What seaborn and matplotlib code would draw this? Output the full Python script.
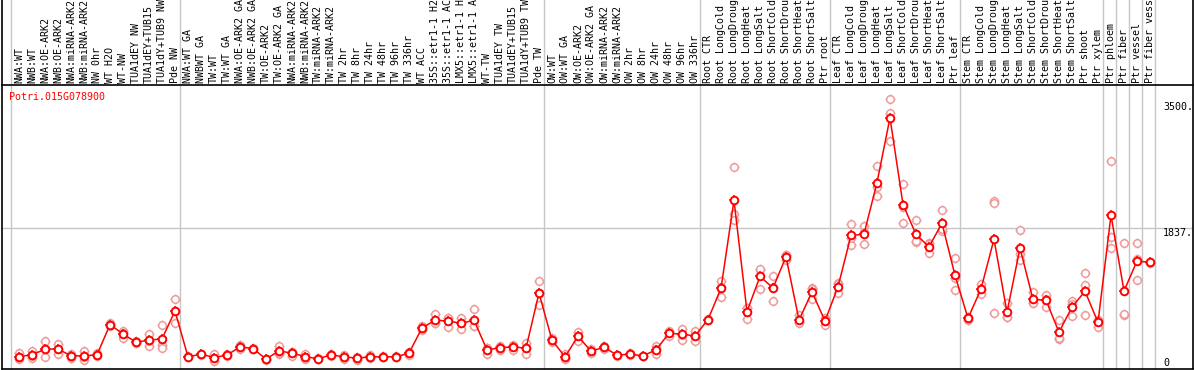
import matplotlib
matplotlib.use("Agg")
import matplotlib.pyplot as plt
import matplotlib.transforms as mtransforms
import numpy as np
import pandas as pd
import seaborn as sns

# ---- data ----
gene = "Potri.015G078900"

samples = [
    # NW block
    "NWA:WT", "NWB:WT", "NWA:OE-ARK2", "NWB:OE-ARK2", "NWA:miRNA-ARK2",
    "NWB:miRNA-ARK2", "NW 0hr", "WT H2O", "WT-NW", "TUA1dEY NW",
    "TUA1dEY+TUB15", "TUA1dY+TUB9 NW", "Pde NW",
    # TW block
    "NWA:WT GA", "NWBWT GA", "TW:WT", "TW:WT GA", "NWA:OE-ARK2 GA",
    "NWB:OE-ARK2 GA", "TW:OE-ARK2", "TW:OE-ARK2 GA", "NWA:miRNA-ARK2",
    "NWB:miRNA-ARK2", "TW:miRNA-ARK2", "TW:miRNA-ARK2", "TW 2hr",
    "TW 8hr", "TW 24hr", "TW 48hr", "TW 96hr", "TW 336hr", "WT ACC",
    "35S::etr1-1 H2O", "35S::etr1-1 ACC", "LMX5::etr1-1 H2O",
    "LMX5::etr1-1 ACC", "WT-TW", "TUA1dEY TW", "TUA1dEY+TUB15",
    "TUA1dY+TUB9 TW", "Pde TW",
    # OW block
    "OW:WT", "OW:WT GA", "OW:OE-ARK2", "OW:OE-ARK2 GA", "OW:miRNA-ARK2",
    "OW:miRNA-ARK2", "OW 2hr", "OW 8hr", "OW 24hr", "OW 48hr", "OW 96hr",
    "OW 336hr",
    # root
    "Root CTR", "Root LongCold", "Root LongDrought", "Root LongHeat",
    "Root LongSalt", "Root ShortCold", "Root ShortDrought", "Root ShortHeat",
    "Root ShortSalt", "Ptr root",
    # leaf
    "Leaf CTR", "Leaf LongCold", "Leaf LongDrought", "Leaf LongHeat",
    "Leaf LongSalt", "Leaf ShortCold", "Leaf ShortDrought", "Leaf ShortHeat",
    "Leaf ShortSalt", "Ptr leaf",
    # stem
    "Stem CTR", "Stem LongCold", "Stem LongDrought", "Stem LongHeat",
    "Stem LongSalt", "Stem ShortCold", "Stem ShortDrought", "Stem ShortHeat",
    "Stem ShortSalt", "Ptr shoot", "Ptr xylem",
    # single tissues
    "Ptr phloem", "Ptr fiber", "Ptr vessel", "Ptr fiber vessel",
]
group_sizes = [13, 28, 12, 10, 10, 11, 1, 1, 1, 1]

mean_expr = [
    157, 179, 253, 256, 166, 166, 179, 575, 453, 345, 371, 388, 754,
    153, 188, 144, 175, 284, 262, 123, 231, 201, 157, 127, 179, 153, 136,
    153, 153, 153, 201, 532, 632, 623, 593, 632, 244, 271, 284, 266, 989,
    371, 153, 423, 227, 279, 175, 188, 166, 244, 462, 449, 427,
    641, 1051, 2205, 745, 1208, 1055, 1464, 636, 1002, 623,
    1072, 1743, 1761, 2436, 3286, 2149, 1757, 1595, 1904, 1221,
    659, 1042, 1695, 737, 1578, 907, 894, 476, 806, 1012, 606,
    2009, 1016, 1408, 1391,
]

rep_expr = [
    [209, 123, 150], [235, 136, 170], [362, 153, 250], [323, 192, 256],
    [192, 144, 166], [235, 114, 150], [200, 160, 179], [590, 560, 575],
    [492, 401, 460], [355, 335, 345], [453, 297, 365], [571, 309, 274],
    [907, 593, 760],
    [160, 145], [195, 180], [196, 101, 135], [185, 165], [309, 262, 280],
    [270, 255], [130, 115], [297, 192, 205], [215, 170, 215],
    [196, 123, 150], [135, 120], [192, 170], [179, 127], [157, 114, 137],
    [179, 136, 145], [160, 145], [160, 145], [175, 215, 210],
    [562, 510, 525], [711, 593, 592], [662, 549, 658], [667, 515, 597],
    [776, 562, 558], [192, 270, 270], [244, 290, 280], [244, 300, 308],
    [332, 192, 274], [1146, 828, 993],
    [395, 345], [140, 130, 190], [479, 362, 428], [250, 205], [260, 300],
    [180, 170], [200, 176], [170, 160], [192, 290, 250], [497, 430, 460],
    [523, 380, 445], [497, 357, 427],
    [650, 632], [1146, 933, 1074], [2645, 2031, 1944], [789, 654, 792],
    [1286, 1038, 1300], [1208, 885, 1072], [1490, 1420, 1482],
    [610, 600, 698], [1051, 915, 1040], [667, 575, 627],
    [1124, 985, 1107], [1900, 1617, 1712], [1865, 1630, 1788],
    [2658, 2266, 2384], [3534, 3351, 2976], [2423, 1913, 2111],
    [1944, 1660, 1667], [1640, 1508, 1637], [2074, 1804, 1834],
    [1443, 1029, 1191],
    [680, 640, 657], [1103, 980, 1043], [2192, 2170, 724], [855, 680, 676],
    [1813, 1495, 1426], [1000, 860, 861], [967, 802, 913], [636, 392, 400],
    [889, 689, 840], [1251, 1090, 698], [640, 549, 630],
    [2715, 1717, 1574], [1639, 698, 711], [1639, 1155, 1430], [1400, 1380],
]

y_ticks = [0, 1837.5, 3500]
y_tick_labels = ["0", "1837.", "3500."]

# ---- long-form frames ----
mean_df = pd.DataFrame({"idx": np.arange(len(samples)), "expr": mean_expr})
rep_df = pd.DataFrame(
    [(i, v) for i, reps in enumerate(rep_expr) for v in reps],
    columns=["idx", "expr"],
)

sns.set_style("white")
plt.rcParams["font.family"] = ["DejaVu Sans Mono"]

RED = "#ff0000"
PINK = "#ef9a9a"
GRID = "#c6c6c6"
FS = 7.2

W, H = 1194, 370
fig = plt.figure(figsize=(W / 100, H / 100), dpi=100)
ax = fig.add_axes([1.5 / W, 1.5 / H, 1191 / W, 283.5 / H])
ax.set_xlim((1.5 - 19) / 13, (1192.5 - 19) / 13)
ax.set_ylim(0, 3715)
above = 1 + 86 / 283.5  # reach the top of the image

# grid / separators
ax.axhline(1837.5, color=GRID, lw=1, zorder=0, xmin=0, xmax=1)
starts = np.concatenate([[0], np.cumsum(group_sizes)])
for s in starts:
    ax.axvline(s - 0.62, ymin=0, ymax=above, color=GRID, lw=1,
               clip_on=False, zorder=0)
for edge in ax.get_xlim():
    ax.axvline(edge, ymin=0, ymax=above, color="black", lw=1.2,
               clip_on=False, zorder=5)

# replicates
sns.scatterplot(data=rep_df, x="idx", y="expr", marker="+", s=60,
                color=PINK, linewidth=1, ax=ax, zorder=2, legend=False)
sns.scatterplot(data=rep_df, x="idx", y="expr", marker="o", s=30,
                facecolor="white", edgecolor=PINK, linewidth=1.1, ax=ax,
                zorder=2.1, legend=False)
# mean line
sns.lineplot(data=mean_df, x="idx", y="expr", color=RED, lw=1.1, ax=ax,
             zorder=3, legend=False)
sns.scatterplot(data=mean_df, x="idx", y="expr", marker="+", s=60,
                color=RED, linewidth=1.1, ax=ax, zorder=4, legend=False)
sns.scatterplot(data=mean_df, x="idx", y="expr", marker="o", s=30,
                facecolor="white", edgecolor=RED, linewidth=1.4, ax=ax,
                zorder=4.1, legend=False)

ax.set_xticks([])
ax.set_yticks([])
ax.set_xlabel("")
ax.set_ylabel("")
for side in ["left", "right"]:
    ax.spines[side].set_visible(False)
for side in ["top", "bottom"]:
    ax.spines[side].set_color("black")
    ax.spines[side].set_linewidth(1.2)

# sample names above the plot
trans = mtransforms.blended_transform_factory(ax.transData, ax.transAxes)
for i, name in enumerate(samples):
    ax.text(i, 1 + 2 / 283.5, name, rotation=90, ha="center", va="bottom",
            fontsize=FS, transform=trans, clip_on=False, color="black")

# gene name
ax.text(7.8 / 1191, (368.5 - 97) / 283.5, gene, color=RED, fontsize=FS,
        ha="left", va="center", transform=ax.transAxes)

# value labels on the right
ytrans = mtransforms.blended_transform_factory(ax.transAxes, ax.transData)
offsets = {"0": 4.2, "1837.": -3.2, "3500.": -4.0}
for v, lab in zip(y_ticks, y_tick_labels):
    ax.annotate(lab, xy=((1163 - 1.5) / 1191, v), xycoords=ytrans,
                xytext=(0, offsets[lab]), textcoords="offset points",
                ha="left", va="center", fontsize=FS, color="black")

fig.savefig("out.png", dpi=100)
plt.close(fig)
